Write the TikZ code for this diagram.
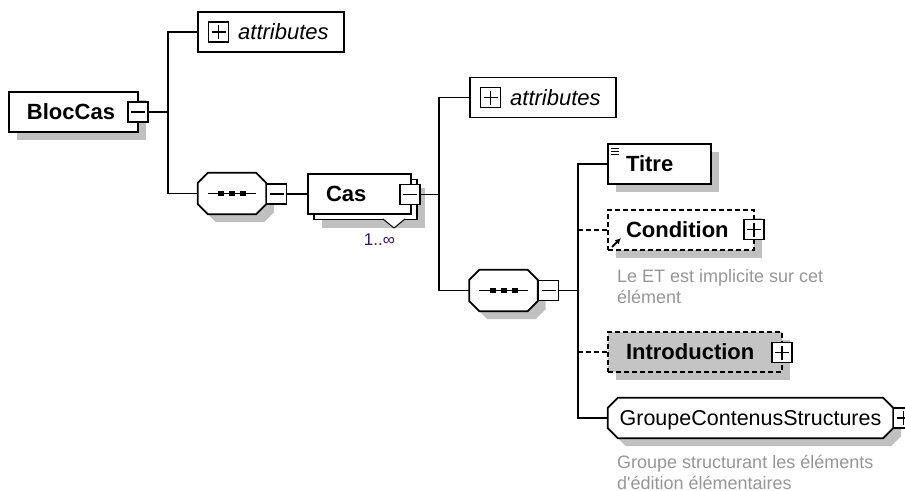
\documentclass[tikz,border=0pt]{standalone}
\usepackage{fontspec}
\setmainfont{Liberation Sans}
\usetikzlibrary{arrows.meta,shadows,backgrounds}

\definecolor{shadowgray}{RGB}{192,192,192}
\definecolor{introgray}{RGB}{196,196,196}
\definecolor{notegray}{RGB}{150,150,150}
\definecolor{occurblue}{RGB}{48,24,96}

% octagon round an empty node
\newcommand{\chamfer}[2]{([xshift=#2]#1.north west) -- ([xshift=-#2]#1.north east)
  -- ([yshift=-#2]#1.north east) -- ([yshift=#2]#1.south east)
  -- ([xshift=-#2]#1.south east) -- ([xshift=#2]#1.south west)
  -- ([yshift=#2]#1.south west) -- ([yshift=-#2]#1.north west) -- cycle}

\tikzset{
  boxline/.style={line width=1.8pt},
  castshadow/.style={drop shadow={shadow xshift=8pt,shadow yshift=-8pt,fill=shadowgray,opacity=1}},
  elembox/.style={boxline,draw,fill=white,minimum height=40pt,inner xsep=18pt,inner ysep=0pt,
    align=left,font=\fontsize{22}{26}\selectfont\bfseries},
  optbox/.style={elembox,dash pattern=on 5pt off 3pt},
  attrbox/.style={boxline,draw,fill=white,minimum height=40pt,minimum width=146pt,inner sep=0pt},
  attrtext/.style={anchor=west,inner sep=0pt,font=\fontsize{22}{26}\selectfont\itshape},
  togglebox/.style={draw,fill=white,line width=1.6pt,minimum size=20pt,inner sep=0pt},
  plusbox/.style={togglebox,path picture={
    \draw[line width=1.6pt] ([xshift=-7pt]path picture bounding box.center) -- ([xshift=7pt]path picture bounding box.center)
      ([yshift=-7pt]path picture bounding box.center) -- ([yshift=7pt]path picture bounding box.center);}},
  minusbox/.style={togglebox,path picture={
    \draw[line width=1.6pt] ([xshift=-7pt]path picture bounding box.center) -- ([xshift=7pt]path picture bounding box.center);}},
  seqnode/.style={minimum width=68pt,minimum height=41pt,inner sep=0pt},
  groupnode/.style={minimum width=285pt,minimum height=40pt,inner sep=0pt,text depth=0pt,
    font=\fontsize{21.5}{26}\selectfont},
  link/.style={line width=1.8pt},
  optlink/.style={link,dash pattern=on 5pt off 3pt},
  note/.style={text=notegray,font=\fontsize{18}{21}\selectfont,align=left,inner sep=0pt,anchor=north west}
}

\begin{document}
\begin{tikzpicture}[x=1pt,y=-1pt,>=Latex]
\useasboundingbox (0,0) rectangle (905,490);

% BlocCas
\node[elembox,castshadow,text width=93pt] (bloccas) at (73.5,112) {BlocCas};
\node[minusbox] (blocm) at (138,112) {};
\coordinate (fork1) at (168,112);

\node[attrbox] (attr1) at (271,32) {};
\node[plusbox] (attr1p) at (218.5,32) {};
\node[attrtext] (attr1t) at (238,32) {attributes};

\node[seqnode] (seq1) at (232,193.5) {};
\node[minusbox] (seq1m) at (276.5,194) {};

% Cas
\node[elembox,castshadow,text width=67pt] (casback) at (365.5,199.5) {};
\node[elembox,text width=67pt] (cas) at (359.5,194) {Cas};
\draw[line width=1pt,fill=white] (383,219) -- (394,228) -- (405,219);
\node[minusbox] (casm) at (410,194.5) {};
\node[font=\fontsize{17}{20}\selectfont,text=occurblue] (casocc) at (379.5,240) {1..∞};
\coordinate (fork2) at (439,194.5);

\node[attrbox] (attr2) at (543,97.5) {};
\node[plusbox] (attr2p) at (490.5,97.5) {};
\node[attrtext] (attr2t) at (510,97.5) {attributes};

\node[seqnode] (seq2) at (503.5,290.5) {};
\node[minusbox] (seq2m) at (548.5,290.5) {};
\coordinate (fork3) at (578,290.5);

% children of the second sequence
\node[elembox,castshadow,text width=67pt] (titre) at (659.5,164) {Titre};
\foreach \yy in {148,151,154}
  \draw[line width=0.8pt] (611,\yy) -- (619,\yy);

\node[optbox,castshadow,text width=110pt] (condition) at (681,230) {Condition};
\node[plusbox] (condp) at (754,229.5) {};
\draw[-{Latex[length=6pt,width=6pt]},line width=2pt] (612,247) -- (621,238);
\node[note] (condnote) at (617,269) {Le ET est implicite sur cet\\élément};

\node[optbox,castshadow,fill=introgray,text width=138pt] (intro) at (695,352) {Introduction};
\node[plusbox] (introp) at (782,352.5) {};

\node[groupnode] (groupe) at (750.5,418) {GroupeContenusStructures};
\node[plusbox] (groupep) at (903.5,418) {};
\node[note] (groupenote) at (617,455.5) {Groupe structurant les éléments\\d\textquotesingle édition élémentaires};

% octagons
\begin{scope}[on background layer]
  \draw[boxline,fill=white,castshadow] \chamfer{seq1}{10pt};
  \draw[boxline,fill=white,castshadow] \chamfer{seq2}{10pt};
  \draw[boxline,fill=white,castshadow] \chamfer{groupe}{10pt};
\end{scope}
\foreach \s in {seq1,seq2}{
  \draw[line width=1.5pt] ([xshift=10pt]\s.west) -- ([xshift=-10pt]\s.east);
  \foreach \dx in {-11,0,11}
    \fill ([xshift=\dx pt]\s.center) ++(-3,-2.5) rectangle ++(6,5);
}

% connectors
\draw[link] (blocm.east) -- (fork1);
\draw[link] (attr1.west) -| (fork1) |- (seq1.west);
\draw[link] (seq1m.east) -- (cas.west);
\draw[link] (casm.east) -- (fork2);
\draw[link] (attr2.west) -| (fork2) |- (seq2.west);
\draw[link] (seq2m.east) -- (fork3);
\draw[link] (titre.west) -| (fork3) |- (groupe.west);
\draw[optlink] (fork3 |- condition.west) -- (condition.west);
\draw[optlink] (fork3 |- intro.west) -- (intro.west);
\end{tikzpicture}
\end{document}
